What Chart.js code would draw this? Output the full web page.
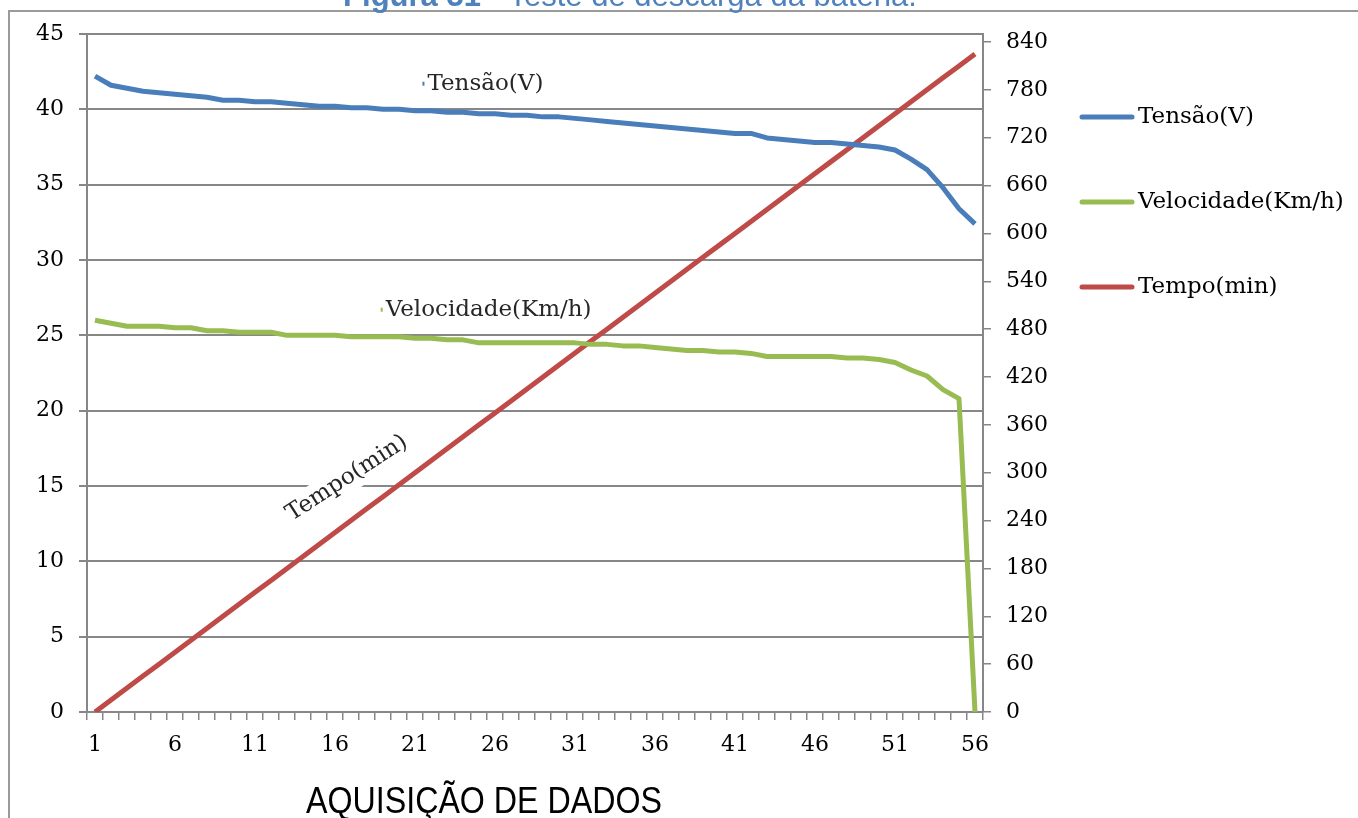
<!DOCTYPE html>
<html>
<head>
<meta charset="utf-8">
<script src="https://cdn.jsdelivr.net/npm/chart.js@4.4.1/dist/chart.umd.min.js"></script>
<style>
  html, body { margin: 0; padding: 0; background: #fff; overflow: hidden; }
  #wrap { position: relative; width: 1358px; height: 818px; }
</style>
</head>
<body>
<div id="wrap"><canvas id="myChart" width="1358" height="818"></canvas></div>
<script>
const xLabels = [
  '1', '2', '3', '4', '5', '6', '7', '8', '9', '10', '11', '12', '13', '14',
  '15', '16', '17', '18', '19', '20', '21', '22', '23', '24', '25', '26', '27', '28',
  '29', '30', '31', '32', '33', '34', '35', '36', '37', '38', '39', '40', '41', '42',
  '43', '44', '45', '46', '47', '48', '49', '50', '51', '52', '53', '54', '55', '56'
];

const tensao = [
  42.2, 41.6, 41.4, 41.2, 41.1, 41.0, 40.9, 40.8, 40.6, 40.6, 40.5, 40.5, 40.4, 40.3,
  40.2, 40.2, 40.1, 40.1, 40.0, 40.0, 39.9, 39.9, 39.8, 39.8, 39.7, 39.7, 39.6, 39.6,
  39.5, 39.5, 39.4, 39.3, 39.2, 39.1, 39.0, 38.9, 38.8, 38.7, 38.6, 38.5, 38.4, 38.4,
  38.1, 38.0, 37.9, 37.8, 37.8, 37.7, 37.6, 37.5, 37.3, 36.7, 36.0, 34.8, 33.4, 32.4
];

const velocidade = [
  26.0, 25.8, 25.6, 25.6, 25.6, 25.5, 25.5, 25.3, 25.3, 25.2, 25.2, 25.2, 25.0, 25.0,
  25.0, 25.0, 24.9, 24.9, 24.9, 24.9, 24.8, 24.8, 24.7, 24.7, 24.5, 24.5, 24.5, 24.5,
  24.5, 24.5, 24.5, 24.4, 24.4, 24.3, 24.3, 24.2, 24.1, 24.0, 24.0, 23.9, 23.9, 23.8,
  23.6, 23.6, 23.6, 23.6, 23.6, 23.5, 23.5, 23.4, 23.2, 22.7, 22.3, 21.4, 20.8, 0
];

const tempo = [
  0, 15, 30, 45, 60, 75, 90, 105, 120, 135, 150, 165, 180, 195,
  210, 225, 240, 255, 270, 285, 300, 315, 330, 345, 360, 375, 390, 405,
  420, 435, 450, 465, 480, 495, 510, 525, 540, 555, 570, 585, 600, 615,
  630, 645, 660, 675, 690, 705, 720, 735, 750, 765, 780, 795, 810, 825
];

const seriesNames = ['Tensão(V)', 'Velocidade(Km/h)', 'Tempo(min)'];
const seriesColors = ['#4a7ebb', '#98bb52', '#be4b48'];
const titleText = ['Figura 31', ' - Teste de descarga da bateria.'];
const xTitle = 'AQUISIÇÃO DE DADOS';

const gridColor = '#878787';
const serif = "'DejaVu Serif', serif";
const sans = "'Liberation Sans', Arial, sans-serif";

// extras: frame, caption, legend, x title, in-chart labels
const extrasPlugin = {
  id: 'extras',
  beforeDraw(chart) {
    const c = chart.ctx;
    c.save();
    c.fillStyle = '#fff';
    c.fillRect(0, 0, chart.width, chart.height);
    c.strokeStyle = '#9a9a9a';
    c.lineWidth = 2;
    c.beginPath();
    c.moveTo(9, chart.height);
    c.lineTo(9, 11);
    c.lineTo(chart.width, 11);
    c.stroke();

    // caption, cut off at the top edge
    c.fillStyle = '#4f81bd';
    c.textBaseline = 'alphabetic';
    c.textAlign = 'left';
    c.font = 'bold 31px ' + sans;
    const w1 = c.measureText(titleText[0]).width;
    c.font = '31px ' + sans;
    const w2 = c.measureText(titleText[1]).width;
    const tx = 630 - (w1 + w2) / 2;
    c.font = 'bold 31px ' + sans;
    c.fillText(titleText[0], tx, 6);
    c.font = '31px ' + sans;
    c.fillText(titleText[1], tx + w1, 6);
    c.restore();
  },
  afterDatasetsDraw(chart) {
    const c = chart.ctx;
    const x = chart.scales.x;
    const yl = chart.scales.y;
    const yr = chart.scales.y1;
    c.save();
    c.font = '23px ' + serif;
    c.fillStyle = '#262626';
    c.textBaseline = 'middle';
    c.textAlign = 'center';

    // Tensão label
    let px = x.getPixelForValue(24.4);
    let py = yl.getPixelForValue(41.7);
    let tw = c.measureText(seriesNames[0]).width;
    c.fillText(seriesNames[0], px, py);
    c.fillStyle = seriesColors[0];
    c.fillRect(px - tw / 2 - 5, py - 2, 2, 4);

    // Velocidade label
    c.fillStyle = '#262626';
    px = x.getPixelForValue(24.6);
    py = yl.getPixelForValue(26.7);
    tw = c.measureText(seriesNames[1]).width;
    c.fillText(seriesNames[1], px, py);
    c.fillStyle = seriesColors[1];
    c.fillRect(px - tw / 2 - 5, py - 2, 2, 4);

    // Tempo label, rotated on a white box
    px = x.getPixelForValue(15.75);
    py = yr.getPixelForValue(293);
    tw = c.measureText(seriesNames[2]).width;
    c.translate(px, py);
    c.rotate(-33 * Math.PI / 180);
    c.fillStyle = '#fff';
    c.fillRect(-tw / 2 - 6, -15, tw + 12, 30);
    c.fillStyle = '#262626';
    c.fillText(seriesNames[2], 0, 0);
    c.restore();
  },
  afterDraw(chart) {
    const c = chart.ctx;
    c.save();
    // legend
    c.font = '23px ' + serif;
    c.textBaseline = 'middle';
    c.textAlign = 'left';
    c.lineCap = 'round';
    for (let i = 0; i < seriesNames.length; i++) {
      const ly = 117 + i * 85;
      c.strokeStyle = seriesColors[i];
      c.lineWidth = 5;
      c.beginPath();
      c.moveTo(1082, ly);
      c.lineTo(1132, ly);
      c.stroke();
      c.fillStyle = '#000';
      c.fillText(seriesNames[i], 1138, ly);
    }

    // x axis title, narrow sans
    c.translate(484, 803);
    c.scale(0.87, 1);
    c.font = '37px ' + sans;
    c.textAlign = 'center';
    c.fillStyle = '#000';
    c.fillText(xTitle, 0, 0);
    c.restore();
  }
};

const ctx = document.getElementById('myChart').getContext('2d');

const myChart = new Chart(ctx, {
  type: 'line',
  data: {
    labels: xLabels,
    datasets: [
      { label: seriesNames[0], data: tensao, yAxisID: 'y', borderColor: seriesColors[0] },
      { label: seriesNames[1], data: velocidade, yAxisID: 'y', borderColor: seriesColors[1] },
      { label: seriesNames[2], data: tempo, yAxisID: 'y1', borderColor: seriesColors[2] }
    ]
  },
  options: {
    responsive: false,
    animation: false,
    events: [],
    layout: { padding: { top: 34, left: 0, right: 0, bottom: 0 } },
    elements: {
      line: { borderWidth: 5, tension: 0, borderCapStyle: 'butt', borderJoinStyle: 'round' },
      point: { radius: 0 }
    },
    plugins: {
      legend: { display: false },
      tooltip: { enabled: false }
    },
    scales: {
      x: {
        type: 'category',
        offset: true,
        grid: {
          offset: true,
          drawOnChartArea: false,
          drawTicks: true,
          tickLength: 8,
          color: gridColor,
          lineWidth: 1.5
        },
        border: { display: true, color: gridColor, width: 2 },
        ticks: {
          autoSkip: false,
          maxRotation: 0,
          padding: 12,
          color: '#000',
          font: { family: serif, size: 22 },
          callback: (value, index) => (index % 5 === 0 ? xLabels[index] : '')
        },
        afterFit: (scale) => { scale.height = 106; }
      },
      y: {
        position: 'left',
        min: 0,
        max: 45,
        ticks: {
          stepSize: 5,
          padding: 15,
          color: '#000',
          font: { family: serif, size: 22 }
        },
        grid: { color: gridColor, lineWidth: 2, tickLength: 8 },
        border: { display: true, color: gridColor, width: 2 },
        afterFit: (scale) => { scale.width = 87; }
      },
      y1: {
        position: 'right',
        min: 0,
        max: 850,
        ticks: {
          stepSize: 60,
          includeBounds: false,
          padding: 15,
          color: '#000',
          font: { family: serif, size: 22 }
        },
        grid: { drawOnChartArea: false, color: gridColor, lineWidth: 1.5, tickLength: 8 },
        border: { display: true, color: gridColor, width: 2 },
        afterFit: (scale) => { scale.width = 1358 - 983; }
      }
    }
  },
  plugins: [extrasPlugin]
});
</script>
</body>
</html>
